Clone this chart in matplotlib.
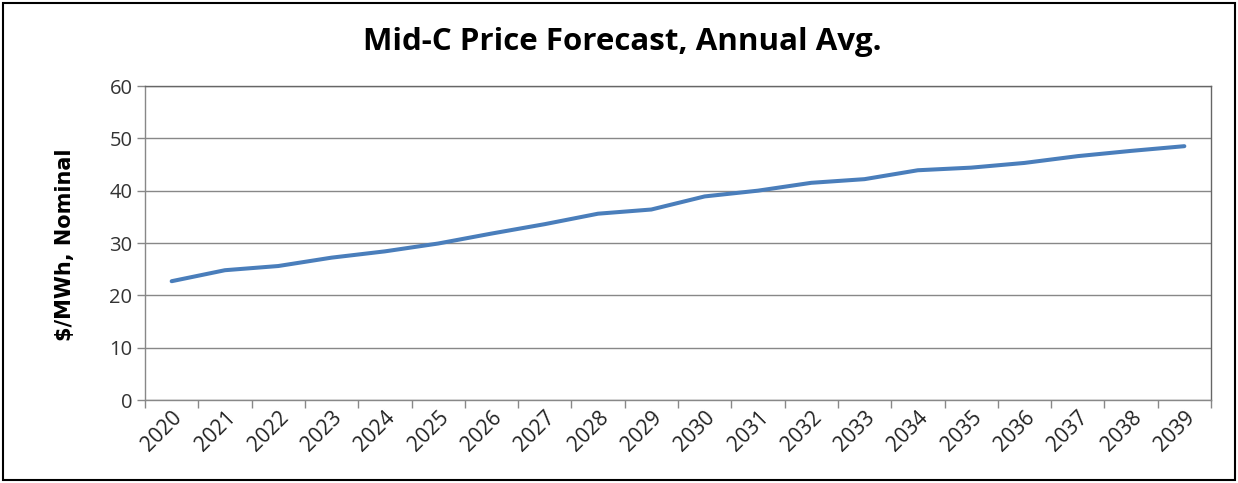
import matplotlib
matplotlib.use("Agg")
import matplotlib.pyplot as plt
from matplotlib.patches import Rectangle

years = [str(y) for y in range(2020, 2040)]
prices = [22.7, 24.8, 25.6, 27.2, 28.4, 29.9, 31.8, 33.6, 35.6, 36.4,
          38.9, 40.0, 41.5, 42.2, 43.9, 44.4, 45.3, 46.6, 47.6, 48.5]
y_ticks = [0, 10, 20, 30, 40, 50, 60]

W, H = 1238, 483
fig = plt.figure(figsize=(W / 100, H / 100), dpi=100)
ax = fig.add_axes([145 / W, 1 - 400 / H, (1211 - 145) / W, (400 - 86) / H])

x = [i + 0.5 for i in range(len(years))]
ax.plot(x, prices, color="#4a7ebb", linewidth=2.9, solid_capstyle="round", zorder=3)

ax.set_xlim(0, len(years))
ax.set_ylim(0, 60)
ax.set_yticks(y_ticks)
ax.set_xticks(range(len(years) + 1))
ax.set_xticks(x, minor=True)
ax.set_xticklabels([])
ax.set_xticklabels(years, minor=True, rotation=45, ha="right", va="top",
                   rotation_mode="anchor", fontsize=15, family="Open Sans", color="#222222")
ax.tick_params(axis="x", which="minor", length=0, pad=5)
ax.tick_params(axis="x", which="major", length=6, color="#888888", width=1)
ax.tick_params(axis="y", length=6, color="#888888", width=1, labelsize=14.5,
               labelcolor="#333333", pad=3)
for lab in ax.get_yticklabels():
    lab.set_family("Open Sans")

ax.grid(axis="y", color="#888888", linewidth=1)
ax.set_axisbelow(True)
for side in ["left", "bottom"]:
    ax.spines[side].set_color("#888888")
for side in ["top", "right"]:
    ax.spines[side].set_color("#666666")
for s in ax.spines.values():
    s.set_linewidth(1)

fig.text(622 / W, 1 - 42 / H, "Mid-C Price Forecast, Annual Avg.", ha="center", va="center",
         fontsize=22.5, fontweight="bold", family="Open Sans")
fig.text(65 / W, 1 - 245 / H, "$/MWh, Nominal", ha="center", va="center", rotation=90,
         fontsize=15, fontweight="bold", family="DejaVu Sans")

fig.patches.append(Rectangle((3 / W, 3 / H), 1 - 6 / W, 1 - 6 / H, transform=fig.transFigure,
                             fill=False, edgecolor="black", linewidth=1.5))

fig.savefig("out.png", dpi=100)
